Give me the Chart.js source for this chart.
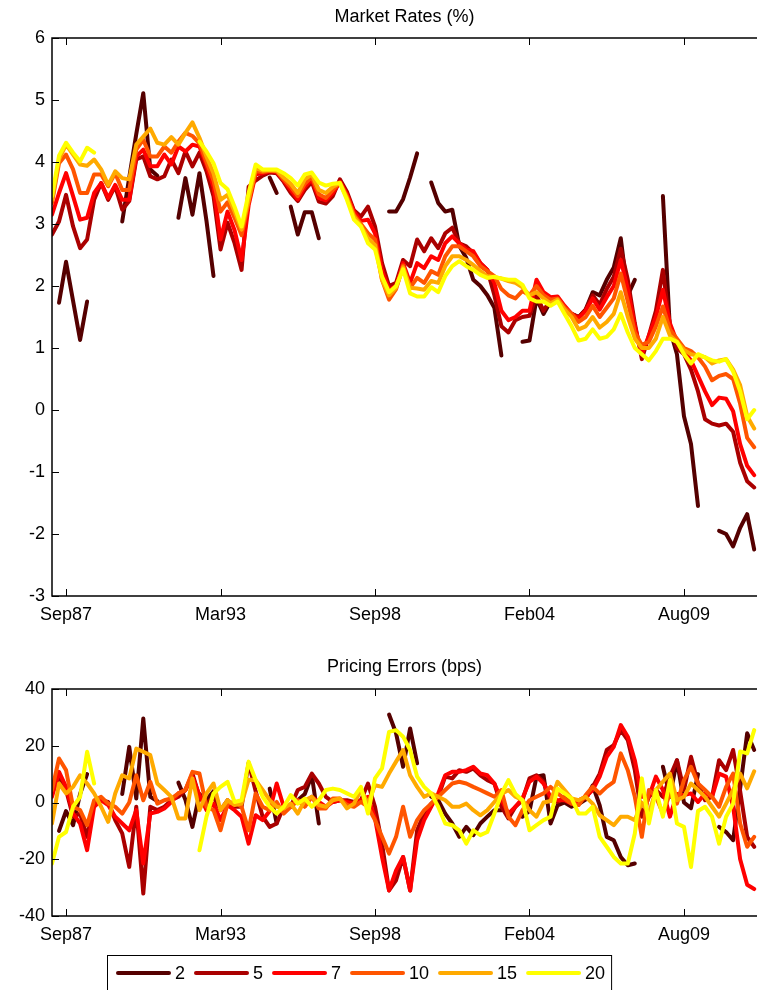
<!DOCTYPE html>
<html>
<head>
<meta charset="utf-8">
<title>Market Rates and Pricing Errors</title>
<script src="https://cdn.jsdelivr.net/npm/chart.js@4.4.1/dist/chart.umd.min.js"></script>
<style>
    body { margin: 0; background: #fff; overflow: hidden; }
    #topBox { position: absolute; left: 0; top: 0; width: 757px; height: 640px; }
    #bottomBox { position: absolute; left: 0; top: 640px; width: 757px; height: 350px; }
</style>
</head>
<body>
<div id="topBox"><canvas id="ratesChart"></canvas></div>
<div id="bottomBox"><canvas id="errorsChart"></canvas></div>
<script>
// maturities (years) and their colours (matlab "hot" style)
const maturities = ["2", "5", "7", "10", "15", "20"];
const lineColors = ["#550000", "#aa0000", "#ff0000", "#ff5500", "#ffaa00", "#ffff00"];

// x axis: quarterly observations, labels only at a few of them
const tickPos = [2, 24, 46, 68, 90];
const tickLabels = ["Sep87", "Mar93", "Sep98", "Feb04", "Aug09"];

// market rates (%) - one value per quarter, null = missing
const rates2 = [
    null, 1.73, 2.39, 1.76, 1.13, 1.75, null, null, null, null,
    3.04, 3.75, 4.45, 5.11, 3.88, 3.78, null, null, 3.1, 3.74,
    3.15, 3.82, 3.05, 2.16, null, null, null, null, null, null,
    null, 3.75, 3.5, null, 3.28, 2.83, 3.19, 3.19, 2.77, null,
    null, null, null, null, null, null, null, null, 3.2, 3.2,
    3.4, 3.75, 4.14, null, 3.67, 3.34, 3.2, 3.23, 2.65, 2.45,
    2.1, 2.0, 1.85, 1.65, 0.88, null, null, 1.1, 1.12, 1.8,
    1.55, 1.75, 1.78, 1.65, 1.55, 1.5, 1.62, 1.9, 1.85, 2.1,
    2.3, 2.77, 1.85, 2.1, null, null, null, 3.45, 1.3, 0.9,
    -0.1, -0.55, -1.55, null, null, -1.95, -2.0, -2.2, -1.9, -1.68, -2.25
];
const rates5 = [
    2.83, 3.04, 3.47, 2.96, 2.61, 2.75, 3.39, 3.66, 3.39, 3.61,
    3.23, 3.37, 4.04, 4.09, 3.77, 3.72, 3.77, 4.04, 3.82, 4.17,
    3.93, 4.15, 3.85, 3.45, 2.59, 3.02, 2.69, 2.26, 3.6, 3.7,
    3.78, 3.83, 3.82, 3.68, 3.5, 3.37, 3.55, 3.68, 3.36, 3.33,
    3.45, 3.72, 3.52, 3.22, 3.12, 3.28, 2.96, 2.37, 2.0, 2.05,
    2.42, 2.32, 2.75, 2.56, 2.77, 2.61, 2.85, 2.94, 2.69, 2.64,
    2.53, 2.37, 2.26, 1.85, 1.35, 1.25, 1.45, 1.5, 1.52, 1.85,
    1.6, 1.78, 1.8, 1.65, 1.55, 1.5, 1.62, 1.85, 1.7, 1.95,
    2.15, 2.6, 2.1, 1.4, 0.82, 1.2, 1.6, 2.26, 1.35, 1.0,
    0.9, 0.65, 0.3, -0.15, -0.22, -0.25, -0.22, -0.35, -0.85, -1.15, -1.25
];
const rates7 = [
    3.15, 3.5, 3.82, 3.45, 3.07, 3.1, 3.5, 3.66, 3.42, 3.63,
    3.39, 3.39, 4.09, 4.2, 3.93, 3.93, 4.12, 3.96, 4.25, 4.17,
    4.28, 4.25, 3.95, 3.6, 2.75, 3.2, 2.9, 2.42, 3.3, 3.8,
    3.82, 3.85, 3.84, 3.7, 3.55, 3.4, 3.6, 3.72, 3.42, 3.38,
    3.5, 3.68, 3.48, 3.2, 3.05, 3.07, 2.85, 2.25, 1.94, 2.0,
    2.37, 2.05, 2.37, 2.29, 2.48, 2.42, 2.69, 2.8, 2.69, 2.59,
    2.56, 2.37, 2.26, 2.05, 1.6, 1.45, 1.5, 1.6, 1.6, 2.1,
    1.9, 1.82, 1.83, 1.68, 1.55, 1.48, 1.6, 1.8, 1.62, 1.82,
    2.0, 2.42, 1.95, 1.35, 0.9, 1.2, 1.5, 1.94, 1.4, 1.1,
    0.95, 0.8, 0.55, 0.3, 0.08, 0.2, 0.18, -0.02, -0.55, -0.9, -1.05
];
const rates10 = [
    3.34, 3.98, 4.12, 3.88, 3.5, 3.5, 3.8, 3.8, 3.61, 3.82,
    3.55, 3.55, 4.2, 4.36, 4.09, 4.09, 4.25, 4.15, 4.33, 4.47,
    4.42, 4.3, 4.0, 3.7, 3.2, 3.35, 3.1, 2.82, 3.35, 3.85,
    3.84, 3.86, 3.85, 3.72, 3.6, 3.45, 3.65, 3.76, 3.48, 3.42,
    3.55, 3.67, 3.45, 3.15, 3.0, 2.85, 2.75, 2.1, 1.78, 1.95,
    2.33, 1.97, 2.13, 2.05, 2.24, 2.18, 2.48, 2.64, 2.64, 2.56,
    2.48, 2.32, 2.24, 2.16, 1.95, 1.85, 1.8, 1.92, 1.85, 2.0,
    1.85, 1.78, 1.8, 1.65, 1.55, 1.42, 1.5, 1.68, 1.5, 1.65,
    1.8, 2.2, 1.75, 1.25, 1.05, 1.1, 1.35, 1.67, 1.3, 1.15,
    1.0, 0.95, 0.85, 0.7, 0.48, 0.55, 0.58, 0.5, 0.1, -0.45, -0.6
];
const rates15 = [
    3.39, 4.04, 4.28, 4.12, 3.96, 3.94, 4.04, 3.88, 3.63, 3.85,
    3.74, 3.72, 4.28, 4.41, 4.54, 4.31, 4.28, 4.4, 4.28, 4.47,
    4.64, 4.39, 4.09, 3.82, 3.39, 3.47, 3.2, 2.91, 3.39, 3.9,
    3.86, 3.87, 3.86, 3.75, 3.65, 3.5, 3.72, 3.8, 3.55, 3.5,
    3.6, 3.66, 3.42, 3.12, 2.97, 2.77, 2.66, 2.1, 1.85, 1.97,
    2.3, 1.97, 1.96, 1.94, 2.08, 2.05, 2.32, 2.48, 2.48, 2.42,
    2.34, 2.24, 2.16, 2.14, 2.12, 2.08, 2.05, 1.98, 1.85, 1.9,
    1.8, 1.72, 1.78, 1.62, 1.5, 1.3, 1.35, 1.5, 1.33, 1.42,
    1.55, 1.9, 1.5, 1.15, 1.0, 1.0, 1.15, 1.5, 1.2, 1.1,
    0.97, 0.9, 0.88, 0.85, 0.75, 0.8, 0.82, 0.65, 0.4, -0.1, -0.3
];
const rates20 = [
    3.45, 4.1, 4.31, 4.15, 4.01, 4.23, 4.15, null, null, null,
    null, null, null, null, null, null, null, null, null, null,
    null, 4.33, 4.17, 3.98, 3.66, 3.56, 3.28, 2.96, 3.5, 3.96,
    3.88, 3.88, 3.88, 3.82, 3.74, 3.62, 3.8, 3.83, 3.67, 3.62,
    3.65, 3.66, 3.39, 3.07, 2.96, 2.69, 2.59, 2.15, 1.9, 2.0,
    2.27, 1.88, 1.83, 1.83, 1.98, 1.9, 2.16, 2.32, 2.4, 2.32,
    2.26, 2.18, 2.13, 2.15, 2.12, 2.1, 2.1, 2.02, 1.8, 1.75,
    1.75, 1.68, 1.75, 1.55, 1.35, 1.12, 1.15, 1.3, 1.15, 1.18,
    1.3, 1.55, 1.25, 1.0, 0.9, 0.8, 0.95, 1.15, 1.15, 1.1,
    0.9, 0.75, 0.9, 0.85, 0.8, 0.78, 0.82, 0.62, 0.3, -0.15, 0.0
];

// pricing errors (bps)
const errors2 = [
    null, -10, -3, -8, 3, 10, null, null, null, null,
    3, 19.6, 1.4, 29.6, 2, 0.5, null, null, 7, 1,
    -8.6, 3, 1, 4, null, null, null, null, null, null,
    null, 4.9, -7.4, null, -1.5, 0.8, 3, 9.6, -7.4, null,
    null, null, null, null, null, null, null, null, 31, 24.4,
    12.6, 26.1, 13.8, null, 2, 0.8, -3.9, -7.4, -12.1, -8.6,
    -11.5, -7.4, -5, -2.7, -2.7, null, null, -5, -3, 9.1,
    9.6, -7.4, -1, 0, -1.5, -0.5, 1, 6, -1, -12.1,
    -13.3, -19.2, -22.1, -21.5, null, null, null, 12.6, 2, 14.9,
    0, -2, 10, null, null, -8.6, -10.4, -13.3, 5, 24.4, 18.5
];
const errors5 = [
    3.2, 9.1, 4.4, -5, -3.9, -12.1, -0.4, 0.8, 0.2, -6.2,
    -10.9, -22.7, -1.5, -32.1, -1.5, -2.7, -1.5, 0.8, 2, 4.4,
    10.2, 2, -0.4, 2, -2.7, 0.8, -1.5, -1.5, 14, 4,
    -5, -8.6, -7.4, -1.5, -1.5, 4.4, 5.5, 10.2, 6.7, 2,
    0.2, 0.8, 0.8, 0.2, 0.8, 6.7, -1.5, -14.5, -31, -27.4,
    -19.2, -31, -9.8, -3.9, -0.4, 2, 9.1, 8.5, 11.4, 10.8,
    12, 9.6, 7.9, 6.7, -1.5, -5.6, -1.5, 0.8, 8.5, 9.6,
    7.3, 0.8, 0.2, 2, 0.2, 0.8, 1.4, 5.5, 10.2, 18.5,
    20.2, 25.5, 22, 11.4, -5, 2, 4.4, 2, 9.1, 14.9,
    4.4, 16.1, 6.7, 0.8, 2, 14.9, 11.4, 18.5, 4, -12.1, -15.6
];
const errors7 = [
    2, 10.8, 5.5, -3.9, -7.4, -16.8, -1.5, 0.8, -0.9, -5,
    -7.4, -9.8, -2.7, -21.5, -3.9, -3.3, -2.1, 0.2, 3.2, 4.4,
    9.1, 2.6, -2.7, -0.4, -6.2, -0.9, -2.7, -5, -14.5, -4.5,
    -6.2, -3, 6.7, -1.5, -1, 0.8, -0.4, 2, 0.2, -1.5,
    0.2, 0.8, 0.2, -0.4, 0.8, 2, -5.6, -19.2, -31, -23.9,
    -19.2, -31, -13.3, -6.2, -1.5, 3.2, 9.6, 10.8, 10.8, 11.4,
    12.6, 10.2, 9.6, 6.7, 1, -3.9, -1.5, 1.5, 7.3, 9.1,
    6.7, 2, 0.8, 0.8, -0.4, 0.8, 2, 4.4, 9.1, 16.1,
    19.6, 27.3, 23.2, 14.9, 2, 2, 9.1, 4.4, -5, 3,
    2.6, 3.2, 0.2, 3.2, 2, 10.2, 9.1, -1.5, -20, -29, -30.5
];
const errors10 = [
    4.4, 15.5, 11.4, -1.5, -2.7, -8, 0.8, 2, -0.4, -1.5,
    -3.9, 0, 9.6, 0.8, 7.3, -0.4, 0.8, 1.4, 3.2, 4.4,
    10.8, 10.2, -1.5, -2.7, -9.8, -0.4, 0.2, -1.5, -9.8, 3.2,
    -1.5, -2.7, 0.2, -3.9, -1.5, 0.8, -1.5, 2, -2.1, -2.1,
    1.4, 1.4, -0.9, -1.5, 0.2, -1.5, -6.2, -12.1, -18, -12.1,
    -1.5, -12.1, -6.2, -2.7, -0.4, 2, 4.4, 6.7, 7.3, 6.7,
    5.5, 4.4, 3.2, 2, 4.4, -5, -8, -2.7, 0.8, 2,
    3.2, 5.5, 3.2, 1.4, -0.4, -0.9, 2.6, 5.5, 3.2, 5.5,
    7.3, 17.3, 11.4, 2, -12.1, 4.4, 2, -3.9, 3.2, -0.4,
    7.9, 12.6, 6.7, 4.4, 2, -1.5, 5.5, 10.2, -7.4, -15.6, -12.1
];
const errors15 = [
    -7.4, 6.7, 3.2, 5.5, 9.6, 6.7, 3.2, -1.5, -6.8, 3.2,
    9.6, 8.5, 19, 17.9, 16.7, 6.7, 4.4, 2, -5.6, -5.6,
    8.5, -2.7, 3.2, 6.7, -2.7, 0.8, -0.9, -0.4, 8, 7.9,
    4.4, 0.8, -1.5, -2.1, -0.4, -3.9, 0.8, 2, -0.9, -1.5,
    0.8, 1.4, -2.1, -0.4, 4.4, -0.4, 6.1, 5.5, 10.2, 14.4,
    18.5, 9.6, 5.5, 2, 3.2, 2, 0.8, -1.5, -1.5, -0.4,
    -2.7, -4.5, -2.7, 0.2, 3, 4.4, 2, 0.8, -2.7, -5,
    0, 0.5, 7.3, 4.4, 1.4, 0.8, 2, -0.4, -4.5, -6.2,
    -8, -5, -5, -6.2, 0, -3.9, 4.4, 7.3, 10.2, 0.8,
    2, 6.7, 4.4, 2, -1.5, -5, -0.4, 4.4, 10.2, 5, 11
];
const errors20 = [
    -21.5, -12.1, -10.4, -1.5, 2, 17.9, 6.7, null, null, null,
    null, null, null, null, null, null, null, null, null, null,
    null, -16.8, -5, 3.2, 5.5, 7.3, 0.2, 0.8, 14.4, 7.9,
    2, -1.5, -3.9, -1.5, 2.6, -0.4, 1.4, -1.5, 0.8, 4.4,
    4.9, 4.4, 3.2, 2, 5.5, -3.9, 8.5, 12, 24.9, 25.5,
    23.2, 18.5, 9.1, 5.5, 3.2, -1.5, -7.4, -8, -9.8, -14.5,
    -9.8, -11.5, -10.4, -3.9, 3, 7.9, 3, 0.8, -9.8, -8,
    -6.2, -5, 4.9, 3.2, 1.4, -3.9, -3.9, -1.5, -12.1, -15.6,
    -19.2, -21.5, -21.5, -10.9, 8.5, -7.4, 4.4, -5, 7.9, -7.4,
    -8.6, -22.7, -3, -1.5, -5, -14.5, -5, -0.4, 18, 17.3, 25.5
];

const fontFamily = '"Liberation Sans", Arial, Helvetica, sans-serif';
const TICK_LEN = 7;

// quarter index -> {x, y}
function toPoints(values) {
    return values.map(function (v, i) {
        return { x: i, y: v };
    });
}

function makeDatasets(seriesList) {
    return seriesList.map(function (values, k) {
        return {
            label: maturities[k],
            data: toPoints(values),
            borderColor: lineColors[k],
            backgroundColor: lineColors[k],
            borderWidth: 4,
            borderCapStyle: "round",
            borderJoinStyle: "round",
            pointRadius: 0,
            tension: 0,
            order: seriesList.length - 1 - k // 20y drawn last (on top)
        };
    });
}

// matlab-like axes: left/top/bottom frame with inward ticks
// (the right edge of the figure is cut off in the original)
const axesBox = {
    id: "axesBox",
    afterDraw(chart) {
        const ctx = chart.ctx;
        const a = chart.chartArea;
        const xs = chart.scales.x;
        const ys = chart.scales.y;
        ctx.save();
        ctx.strokeStyle = "#000";
        ctx.lineWidth = 1.5;
        ctx.beginPath();
        ctx.moveTo(a.right + 2, a.top);
        ctx.lineTo(a.left, a.top);
        ctx.lineTo(a.left, a.bottom);
        ctx.lineTo(a.right + 2, a.bottom);
        ctx.stroke();
        ctx.lineWidth = 1;
        ctx.beginPath();
        xs.ticks.forEach(function (t) {
            const px = Math.round(xs.getPixelForValue(t.value)) + 0.5;
            ctx.moveTo(px, a.bottom);
            ctx.lineTo(px, a.bottom - TICK_LEN);
            ctx.moveTo(px, a.top);
            ctx.lineTo(px, a.top + TICK_LEN);
        });
        ys.ticks.forEach(function (t) {
            const py = Math.round(ys.getPixelForValue(t.value)) + 0.5;
            ctx.moveTo(a.left, py);
            ctx.lineTo(a.left + TICK_LEN, py);
        });
        ctx.stroke();
        ctx.restore();
    }
};

// boxed horizontal legend under the lower panel
const boxLegend = {
    id: "boxLegend",
    afterDraw(chart) {
        const ctx = chart.ctx;
        const y = 333;
        let x = 116;
        ctx.save();
        ctx.font = "18px " + fontFamily;
        ctx.textBaseline = "middle";
        ctx.textAlign = "left";
        chart.data.datasets.forEach(function (ds) {
            ctx.strokeStyle = ds.borderColor;
            ctx.lineWidth = 4;
            ctx.lineCap = "round";
            ctx.beginPath();
            ctx.moveTo(x + 2, y);
            ctx.lineTo(x + 53, y);
            ctx.stroke();
            ctx.fillStyle = "#000";
            ctx.fillText(ds.label, x + 59, y + 1);
            x += 59 + ctx.measureText(ds.label).width + 9;
        });
        ctx.strokeStyle = "#000";
        ctx.lineWidth = 1;
        ctx.strokeRect(107.5, 315.5, x - 3 - 107, 60);
        ctx.restore();
    }
};

function makeOptions(titleText, yMin, yMax, yStep, titlePad, xHeight) {
    const tickFont = { family: fontFamily, size: 18 };
    return {
        responsive: true,
        maintainAspectRatio: false,
        animation: false,
        layout: { padding: 0 },
        plugins: {
            legend: { display: false },
            tooltip: { enabled: false },
            title: {
                display: true,
                text: titleText,
                fullSize: false,
                color: "#000",
                font: { family: fontFamily, size: 18, weight: "normal" },
                padding: titlePad
            }
        },
        scales: {
            x: {
                type: "linear",
                min: 0,
                max: 100.4,
                afterBuildTicks: function (s) {
                    s.ticks = tickPos.map(function (v) { return { value: v }; });
                },
                ticks: {
                    callback: function (v) { return tickLabels[tickPos.indexOf(v)]; },
                    color: "#000",
                    font: tickFont,
                    padding: 8,
                    maxRotation: 0,
                    autoSkip: false
                },
                grid: { display: false, drawTicks: false },
                border: { display: false },
                afterFit: function (s) { s.height = xHeight; }
            },
            y: {
                min: yMin,
                max: yMax,
                ticks: { stepSize: yStep, color: "#000", font: tickFont, padding: 7 },
                grid: { display: false, drawTicks: false },
                border: { display: false },
                afterFit: function (s) { s.width = 52; }
            }
        }
    };
}

function init() {
    new Chart(document.getElementById("ratesChart"), {
        type: "line",
        data: { datasets: makeDatasets([rates2, rates5, rates7, rates10, rates15, rates20]) },
        options: makeOptions("Market Rates (%)", -3, 6, 1, { top: 6, bottom: 10.4 }, 44),
        plugins: [axesBox]
    });

    new Chart(document.getElementById("errorsChart"), {
        type: "line",
        data: { datasets: makeDatasets([errors2, errors5, errors7, errors10, errors15, errors20]) },
        options: makeOptions("Pricing Errors (bps)", -40, 40, 20, { top: 16, bottom: 11.4 }, 74),
        plugins: [axesBox, boxLegend]
    });
}

document.addEventListener("DOMContentLoaded", init);
</script>
</body>
</html>
